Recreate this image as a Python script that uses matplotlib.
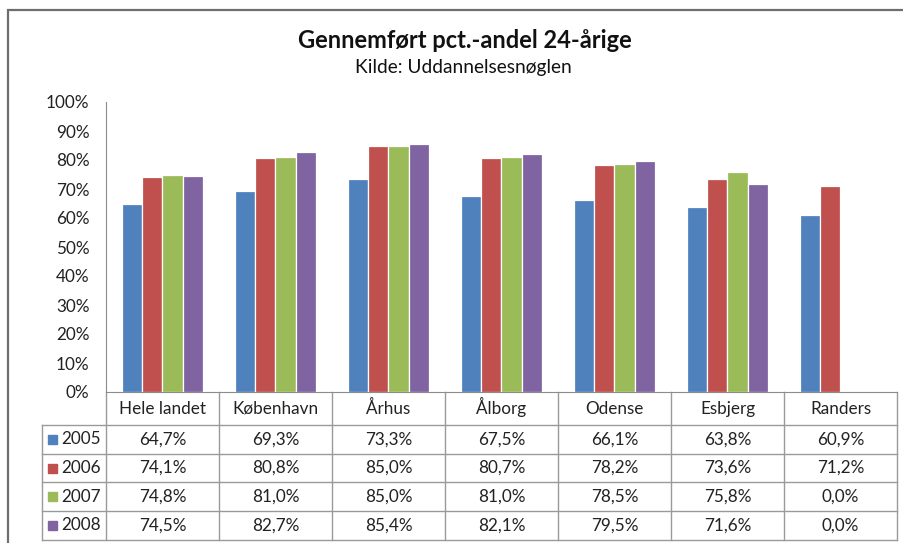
import matplotlib.pyplot as plt
from matplotlib.lines import Line2D
from matplotlib.patches import Rectangle

# data
categories = ["Hele landet", "København", "Århus", "Ålborg", "Odense", "Esbjerg", "Randers"]
years = ["2005", "2006", "2007", "2008"]
v2005 = [64.7, 69.3, 73.3, 67.5, 66.1, 63.8, 60.9]
v2006 = [74.1, 80.8, 85.0, 80.7, 78.2, 73.6, 71.2]
v2007 = [74.8, 81.0, 85.0, 81.0, 78.5, 75.8, 0.0]
v2008 = [74.5, 82.7, 85.4, 82.1, 79.5, 71.6, 0.0]
series = [v2005, v2006, v2007, v2008]
colors = ["#4F81BD", "#C0504D", "#9BBB59", "#8064A2"]

plt.rcParams["font.family"] = ["Lato", "DejaVu Sans"]
W, H = 904, 543
fs = 12.3
fig = plt.figure(figsize=(W / 100, H / 100), dpi=100)
fig.patch.set_facecolor("white")

# outer chart frame (extends past right/bottom edge)
fig.add_artist(Rectangle((8 / W, -0.1), 1.2, 1 - 10 / H + 0.1, transform=fig.transFigure,
                         fill=False, edgecolor="#6e6e6e", linewidth=1.6))

# axes placement in pixels
left, right, top, bottom = 106, 897, 102, 392
ax = fig.add_axes([left / W, 1 - bottom / H, (right - left) / W, (bottom - top) / H])

n = len(categories)
xs = list(range(n))
bw = 0.178
for k, (vals, c) in enumerate(zip(series, colors)):
    off = (k - 1.5) * bw
    ax.bar([x + off for x in xs], vals, width=bw, color=c, edgecolor="white", linewidth=0.9, zorder=3)

ax.set_xlim(-0.5, n - 0.5)
ax.set_ylim(0, 100)
ax.set_yticks(range(0, 101, 10))
ax.set_yticklabels([f"{t}%" for t in range(0, 101, 10)], fontsize=fs, color="#222222")
ax.tick_params(axis="y", length=0, pad=12)
ax.set_xticks([])
for s in ["top", "right"]:
    ax.spines[s].set_visible(False)
ax.spines["left"].set_color("#8c8c8c")
ax.spines["bottom"].set_color("#8c8c8c")

# data table below the plot
line_c = "#9a9a9a"
def yf(py):
    return (bottom - py) / (bottom - top)

header_bot = 425
row_edges = [425, 454, 482, 511, 540]
lab_left = (42 - left) / (right - left)
trx = ax.get_xaxis_transform()

def hline(x0, x1, py, tr):
    ax.add_line(Line2D([x0, x1], [yf(py), yf(py)], transform=tr, color=line_c, lw=1, clip_on=False))

def vline(x, py0, py1, tr):
    ax.add_line(Line2D([x, x], [yf(py0), yf(py1)], transform=tr, color=line_c, lw=1, clip_on=False))

for py in row_edges:
    hline(lab_left, 1, py, ax.transAxes)
for i in range(n + 1):
    vline(i - 0.5, bottom, row_edges[-1], trx)
vline(lab_left, row_edges[0], row_edges[-1], ax.transAxes)

for i, cat in enumerate(categories):
    ax.text(i, yf(414), cat, transform=trx, ha="center", va="baseline",
            fontsize=fs, color="#222222")

for r, (yr, vals, c) in enumerate(zip(years, series, colors)):
    yc = yf((row_edges[r] + row_edges[r + 1]) / 2)
    for i, v in enumerate(vals):
        ax.text(i, yc, f"{v:.1f}%".replace(".", ","), transform=trx, ha="center", va="center",
                fontsize=fs, color="#222222")
    ax.add_patch(Rectangle((48 / W, 1 - (row_edges[r] + row_edges[r + 1]) / 2 / H - 4.5 / H),
                           9 / W, 9 / H, transform=fig.transFigure, color=c, clip_on=False))
    fig.text(61 / W, 1 - (row_edges[r] + row_edges[r + 1]) / 2 / H, yr, ha="left", va="center",
             fontsize=fs, color="#222222")

# titles
fig.text(465 / W, 1 - 41 / H, "Gennemført pct.-andel 24-årige", ha="center", va="center",
         fontsize=17, fontweight="bold", color="#111111")
fig.text(463 / W, 1 - 68 / H, "Kilde: Uddannelsesnøglen", ha="center", va="center",
         fontsize=13.8, color="#111111")

fig.savefig("out.png", dpi=100)
